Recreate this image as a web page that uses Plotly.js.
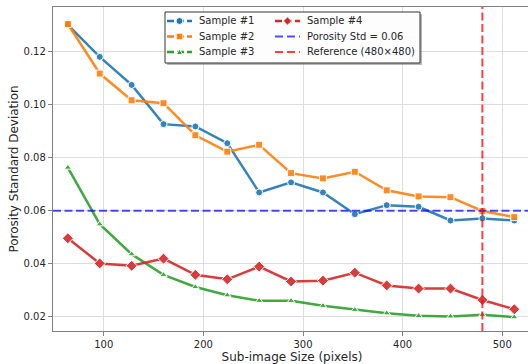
<!DOCTYPE html>
<html>
<head>
<meta charset="utf-8">
<script src="https://cdn.plot.ly/plotly-3.0.1.min.js"></script>
<style>
html,body{margin:0;padding:0;overflow:hidden;background:#fff;}
#chart{width:532px;height:364px;}
</style>
</head>
<body>
<div id="chart"></div>
<script>
const sizes = [64, 96, 128, 160, 192, 224, 256, 288, 320, 352, 384, 416, 448, 480, 512];
const sample1 = [0.1302, 0.1181, 0.1075, 0.0927, 0.0918, 0.0855, 0.0669, 0.0707, 0.0669, 0.0587, 0.0621, 0.0615, 0.0563, 0.0571, 0.0563];
const sample2 = [0.1305, 0.1118, 0.1017, 0.1006, 0.0885, 0.0823, 0.0849, 0.0742, 0.0722, 0.0747, 0.0677, 0.0654, 0.0651, 0.0599, 0.0576];
const sample3 = [0.0763, 0.0549, 0.0436, 0.0358, 0.0312, 0.0281, 0.0260, 0.0260, 0.0241, 0.0226, 0.0213, 0.0203, 0.0201, 0.0207, 0.0198];
const sample4 = [0.0496, 0.0401, 0.0392, 0.0419, 0.0358, 0.0341, 0.0389, 0.0333, 0.0336, 0.0366, 0.0318, 0.0306, 0.0306, 0.0263, 0.0228];
const threshold = 0.06;
const referenceSize = 480;
const seriesNames = ['Sample #1', 'Sample #2', 'Sample #3', 'Sample #4'];
const thresholdLabel = 'Porosity Std = 0.06';
const referenceLabel = 'Reference (480×480)';

const colors = ['#1f77b4', '#ff7f0e', '#2ca02c', '#d62728'];
const symbols = ['circle', 'square', 'triangle-up', 'diamond'];
const msizes = [7, 7, 6.5, 8.5];
const data = [sample1, sample2, sample3, sample4];

const traces = data.map((ys, i) => ({
  x: sizes, y: ys, type: 'scatter', mode: 'lines+markers',
  name: seriesNames[i], showlegend: false,
  opacity: 0.9,
  line: {color: colors[i], width: 2.5},
  marker: {symbol: symbols[i], size: msizes[i], color: colors[i], line: {color: '#ffffff', width: 1}}
}));

const font = {family: 'DejaVu Sans', size: 10, color: '#262626'};
const W = 478, H = 324;
function px(x){return (x-53)/W;}
function py(y){return (331-y)/H;}

const blueLine = 'rgba(0,0,255,0.7)';
const redLine = 'rgba(255,0,0,0.75)';

// manual legend (two columns)
const legendItems = [
  {label: seriesNames[0], color: colors[0], sym: 'circle', col: 0, row: 0},
  {label: seriesNames[1], color: colors[1], sym: 'square', col: 0, row: 1},
  {label: seriesNames[2], color: colors[2], sym: 'triangle', col: 0, row: 2},
  {label: seriesNames[3], color: colors[3], sym: 'diamond', col: 1, row: 0},
  {label: thresholdLabel, color: blueLine, sym: null, col: 1, row: 1},
  {label: referenceLabel, color: redLine, sym: null, col: 1, row: 2}
];
const colX = [167, 275];
const rowY = [21, 36.5, 52];
const shapes = [
  {type: 'rect', xref: 'paper', yref: 'paper', x0: px(167), x1: px(422), y0: py(14), y1: py(65), layer: 'above',
    fillcolor: 'rgba(110,110,110,0.5)', line: {width: 0}},
  {type: 'rect', xref: 'paper', yref: 'paper', x0: px(165), x1: px(420), y0: py(12), y1: py(63), layer: 'above',
    fillcolor: 'rgba(255,255,255,0.97)', line: {color: '#333333', width: 1}},
  {type: 'line', xref: 'paper', yref: 'y', x0: 0, x1: 1, y0: threshold, y1: threshold, layer: 'above',
    line: {color: blueLine, width: 2, dash: '8px,3.5px'}},
  {type: 'line', xref: 'x', yref: 'paper', x0: referenceSize, x1: referenceSize, y0: 0, y1: 1, layer: 'above',
    line: {color: redLine, width: 2, dash: '8px,3.5px'}}
];
const annotations = [];
legendItems.forEach(it => {
  const x0 = colX[it.col], x1 = x0 + 25, y = rowY[it.row];
  const dashed = it.sym ? '7px,3px' : '8px,4px';
  shapes.push({type: 'line', xref: 'paper', yref: 'paper', x0: px(x0), x1: px(x1), y0: py(y), y1: py(y),
    layer: 'above', line: {color: it.color, width: it.sym ? 2.5 : 2, dash: dashed}});
  const cx = (x0 + x1) / 2;
  const mk = {xref: 'paper', yref: 'paper', layer: 'above', fillcolor: it.color, line: {color: '#ffffff', width: 1}};
  if (it.sym === 'circle') {
    shapes.push(Object.assign({type: 'circle', x0: px(cx-3.5), x1: px(cx+3.5), y0: py(y-3.5), y1: py(y+3.5)}, mk));
  } else if (it.sym === 'square') {
    shapes.push(Object.assign({type: 'rect', x0: px(cx-3.3), x1: px(cx+3.3), y0: py(y-3.3), y1: py(y+3.3)}, mk));
  } else if (it.sym === 'triangle') {
    shapes.push(Object.assign({type: 'path', path: `M ${px(cx-3.2)},${py(y+2.6)} L ${px(cx+3.2)},${py(y+2.6)} L ${px(cx)},${py(y-3)} Z`}, mk));
  } else if (it.sym === 'diamond') {
    shapes.push(Object.assign({type: 'path', path: `M ${px(cx-4.2)},${py(y)} L ${px(cx)},${py(y-4.2)} L ${px(cx+4.2)},${py(y)} L ${px(cx)},${py(y+4.2)} Z`}, mk));
  }
  annotations.push({xref: 'paper', yref: 'paper', x: px(x0 + 31), y: py(y), xanchor: 'left', yanchor: 'middle',
    text: it.label, showarrow: false, font: font, borderpad: 0});
});

const layout = {
  width: 532, height: 364,
  margin: {l: 53, r: 1, t: 7, b: 33},
  paper_bgcolor: '#fff', plot_bgcolor: '#fff',
  font: font,
  showlegend: false,
  xaxis: {
    range: [49.1, 528.8], tickvals: [100, 200, 300, 400, 500],
    showgrid: true, gridcolor: '#dddddd', gridwidth: 1, zeroline: false,
    showline: true, linecolor: '#808080', linewidth: 1.2, mirror: true,
    ticks: 'outside', ticklen: 4, tickcolor: '#808080', tickwidth: 1,
    tickfont: font,
    title: {text: 'Sub-image Size (pixels)', font: {family: 'DejaVu Sans', size: 12, color: '#262626'}, standoff: 5}
  },
  yaxis: {
    range: [0.01458, 0.13693], tickvals: [0.02, 0.04, 0.06, 0.08, 0.10, 0.12],
    ticktext: ['0.02', '0.04', '0.06', '0.08', '0.10', '0.12'],
    showgrid: true, gridcolor: '#dddddd', gridwidth: 1, zeroline: false,
    showline: true, linecolor: '#808080', linewidth: 1.2, mirror: true,
    ticks: 'outside', ticklen: 4, tickcolor: '#808080', tickwidth: 1,
    tickfont: font,
    title: {text: 'Porosity Standard Deviation', font: {family: 'DejaVu Sans', size: 12, color: '#262626'}, standoff: 2}
  },
  shapes: shapes,
  annotations: annotations
};

Plotly.newPlot('chart', traces, layout, {staticPlot: true, displayModeBar: false});
</script>
</body>
</html>
